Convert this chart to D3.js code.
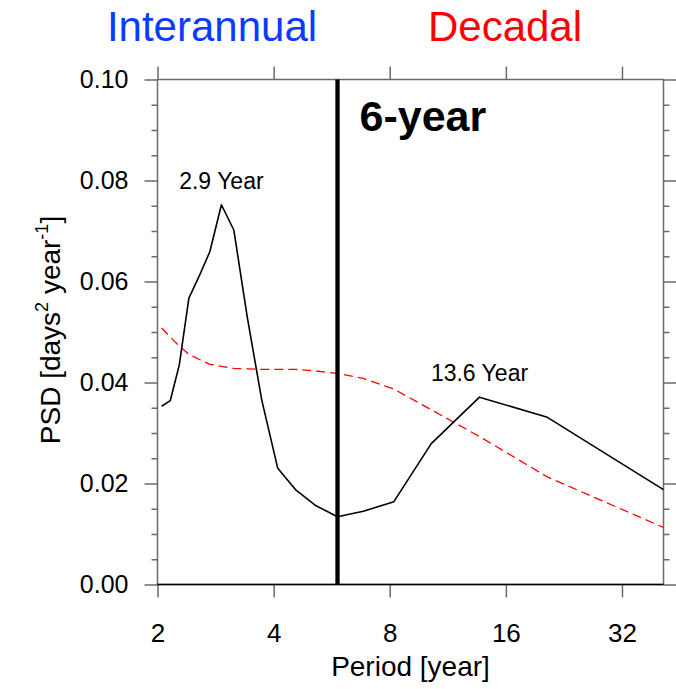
<!DOCTYPE html>
<html>
<head>
<meta charset="utf-8">
<script src="https://cdn.jsdelivr.net/npm/d3@7/dist/d3.min.js"></script>
<style>
body {margin:0; background:#fff;}
svg text {font-family:"Liberation Sans",Arial,Helvetica,sans-serif;}
.ax path {display:none;}
.ax line {stroke:#6a6a6a; stroke-width:1.5;}
.ax text {fill:#000; font-size:25px;}
.xax text {font-size:26px;}
</style>
</head>
<body>
<svg id=chart width=676 height=689></svg>
<script>

// spectrum periods (years) and power
var periods=[2.05,2.158,2.278,2.412,2.5625,2.733,2.929,3.154,3.417,3.727,4.1,4.556,5.125,5.857,6.833,8.2,10.25,13.67,20.5,41];
var psd=[0.0353,0.0364,0.0435,0.0567,0.0610,0.0659,0.0752,0.0702,0.0530,0.0365,0.0230,0.0188,0.0157,0.0134,0.0145,0.0164,0.0279,0.0371,0.0331,0.0188];
var red_noise=[0.0508,0.0490,0.0472,0.0456,0.0446,0.0436,0.0432,0.0428,0.0427,0.0426,0.0426,0.0426,0.0423,0.0418,0.0408,0.0387,0.0346,0.0293,0.0213,0.0113];

var x_ticks=[2,4,8,16,32];
var y_ticks=[0,0.02,0.04,0.06,0.08,0.10];
var y_minor=[0.005,0.01,0.015,0.025,0.03,0.035,0.045,0.05,0.055,0.065,0.07,0.075,0.085,0.09,0.095];

var split_period=5.857;
var split_label='6-year';
var peaks=[{period:2.929,psd:0.0752,label:'2.9 Year'},{period:13.67,psd:0.0371,label:'13.6 Year'}];

var svg=d3.select('#chart');

var marg_left=157.5, marg_top=79.5;
var W0=506, H0=505;

var xScale=d3.scaleLog().base(2)
	.domain([2,41])
	.range([marg_left,marg_left+W0]);
var yScale=d3.scaleLinear()
	.domain([0,0.10])
	.range([marg_top+H0,marg_top]);

// frame (gray)
svg.append('rect')
	.attr('x',marg_left).attr('y',marg_top)
	.attr('width',W0).attr('height',H0)
	.attr('fill','none')
	.attr('stroke','#6a6a6a')
	.attr('stroke-width',1.5);

// axes
svg.append('g').attr('class','ax xax')
	.attr('transform','translate(0,'+(marg_top+H0)+')')
	.call(d3.axisBottom(xScale).tickValues(x_ticks).tickFormat(function(d) {return d;}).tickSize(13).tickPadding(26));
svg.append('g').attr('class','ax')
	.attr('transform','translate(0,'+marg_top+')')
	.call(d3.axisTop(xScale).tickValues(x_ticks).tickFormat('').tickSize(13));

svg.append('g').attr('class','ax')
	.attr('transform','translate('+marg_left+',0)')
	.call(d3.axisLeft(yScale).tickValues(y_ticks).tickFormat(d3.format('.2f')).tickSize(13).tickPadding(16));
svg.append('g').attr('class','ax')
	.attr('transform','translate('+marg_left+',0)')
	.call(d3.axisLeft(yScale).tickValues(y_minor).tickFormat('').tickSize(6));
svg.append('g').attr('class','ax')
	.attr('transform','translate('+(marg_left+W0)+',0)')
	.call(d3.axisRight(yScale).tickValues(y_ticks).tickFormat('').tickSize(13));
svg.append('g').attr('class','ax')
	.attr('transform','translate('+(marg_left+W0)+',0)')
	.call(d3.axisRight(yScale).tickValues(y_minor).tickFormat('').tickSize(6));

// zero line
svg.append('line')
	.attr('x1',marg_left).attr('x2',marg_left+W0)
	.attr('y1',yScale(0)).attr('y2',yScale(0))
	.attr('stroke','#000').attr('stroke-width',1.6);

var line=d3.line()
	.x(function(d) {return xScale(d[0]);})
	.y(function(d) {return yScale(d[1]);});

svg.append('path')
	.datum(periods.map(function(p,i) {return [p,red_noise[i]];}))
	.attr('d',line)
	.attr('fill','none')
	.attr('stroke','#ff0000')
	.attr('stroke-width',1.3)
	.attr('stroke-dasharray','9,5');

svg.append('path')
	.datum(periods.map(function(p,i) {return [p,psd[i]];}))
	.attr('d',line)
	.attr('fill','none')
	.attr('stroke','#000')
	.attr('stroke-width',1.6)
	.attr('stroke-linejoin','round');

// 6-year divider
svg.append('line')
	.attr('x1',xScale(split_period)).attr('x2',xScale(split_period))
	.attr('y1',yScale(0)).attr('y2',yScale(0.10))
	.attr('stroke','#000').attr('stroke-width',4.3);

svg.append('text')
	.attr('x',xScale(split_period)+22).attr('y',yScale(0.0898))
	.attr('font-size','43px').attr('font-weight','bold')
	.text(split_label);

// peak labels
svg.selectAll('.peak').data(peaks).enter().append('text')
	.attr('class','peak')
	.attr('x',function(d) {return xScale(d.period);})
	.attr('y',function(d) {return yScale(d.psd)-16;})
	.attr('text-anchor','middle')
	.attr('font-size','23px')
	.text(function(d) {return d.label;});

// band titles
svg.append('text')
	.attr('x',212).attr('y',41)
	.attr('text-anchor','middle')
	.attr('font-size','42px')
	.attr('fill','#0a3cff')
	.text('Interannual');
svg.append('text')
	.attr('x',505).attr('y',41)
	.attr('text-anchor','middle')
	.attr('font-size','42px')
	.attr('fill','#ff0000')
	.text('Decadal');

// axis labels
svg.append('text')
	.attr('x',marg_left+W0/2).attr('y',676)
	.attr('text-anchor','middle')
	.attr('font-size','28px')
	.text('Period [year]');

var ylab=svg.append('text')
	.attr('transform','translate(60,330) rotate(-90)')
	.attr('text-anchor','middle')
	.attr('font-size','28px');
ylab.append('tspan').text('PSD [days');
ylab.append('tspan').attr('font-size','18px').attr('dy',-12).text('2');
ylab.append('tspan').attr('dy',12).text(' year');
ylab.append('tspan').attr('font-size','18px').attr('dy',-12).text('-1');
ylab.append('tspan').attr('dy',12).text(']');

</script>
</body>
</html>
